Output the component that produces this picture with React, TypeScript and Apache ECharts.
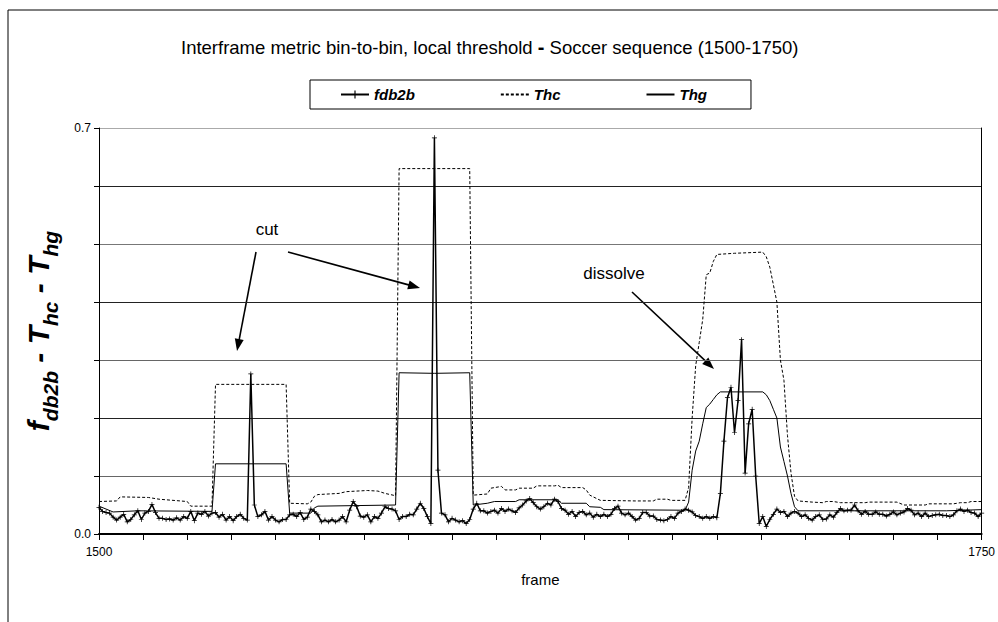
import React, { useEffect, useRef } from "react";
import * as echarts from "echarts";

const START_FRAME = 1500;
const END_FRAME = 1750;

// fdb2b: one value per frame, 1500 .. 1750
const fdb2b = [
  0.046, 0.039, 0.037, 0.036, 0.029, 0.024, 0.029, 0.034, 0.021, 0.025,
  0.033, 0.040, 0.025, 0.036, 0.039, 0.051, 0.037, 0.027, 0.027, 0.025,
  0.026, 0.024, 0.028, 0.024, 0.030, 0.027, 0.039, 0.023, 0.036, 0.034,
  0.039, 0.031, 0.036, 0.037, 0.029, 0.034, 0.024, 0.030, 0.023, 0.030,
  0.034, 0.027, 0.024, 0.276, 0.050, 0.030, 0.033, 0.039, 0.024, 0.030,
  0.024, 0.021, 0.025, 0.025, 0.033, 0.034, 0.030, 0.037, 0.025, 0.029,
  0.043, 0.039, 0.033, 0.021, 0.024, 0.021, 0.025, 0.021, 0.024, 0.030,
  0.021, 0.041, 0.056, 0.047, 0.031, 0.029, 0.033, 0.021, 0.030, 0.027,
  0.036, 0.047, 0.044, 0.043, 0.040, 0.025, 0.030, 0.030, 0.034, 0.033,
  0.043, 0.053, 0.044, 0.030, 0.018, 0.683, 0.110, 0.036, 0.033, 0.021,
  0.027, 0.024, 0.021, 0.023, 0.018, 0.025, 0.043, 0.053, 0.040, 0.040,
  0.036, 0.039, 0.041, 0.036, 0.044, 0.039, 0.043, 0.040, 0.037, 0.045,
  0.050, 0.057, 0.061, 0.054, 0.047, 0.043, 0.047, 0.053, 0.050, 0.060,
  0.056, 0.044, 0.041, 0.034, 0.039, 0.030, 0.037, 0.039, 0.033, 0.036,
  0.029, 0.034, 0.030, 0.034, 0.030, 0.034, 0.044, 0.048, 0.036, 0.033,
  0.036, 0.030, 0.024, 0.027, 0.037, 0.037, 0.031, 0.031, 0.025, 0.024,
  0.023, 0.025, 0.030, 0.027, 0.036, 0.039, 0.043, 0.041, 0.038, 0.032,
  0.030, 0.027, 0.030, 0.027, 0.030, 0.028, 0.070, 0.160, 0.235, 0.253,
  0.175, 0.230, 0.335, 0.105, 0.190, 0.215, 0.100, 0.018, 0.030, 0.013,
  0.025, 0.034, 0.043, 0.037, 0.039, 0.030, 0.036, 0.039, 0.036, 0.030,
  0.033, 0.027, 0.024, 0.030, 0.033, 0.025, 0.026, 0.033, 0.029, 0.037,
  0.044, 0.040, 0.041, 0.041, 0.050, 0.040, 0.034, 0.039, 0.034, 0.034,
  0.038, 0.034, 0.034, 0.031, 0.034, 0.038, 0.033, 0.036, 0.038, 0.044,
  0.041, 0.033, 0.036, 0.030, 0.036, 0.030, 0.032, 0.033, 0.034, 0.032,
  0.032, 0.030, 0.033, 0.040, 0.043, 0.039, 0.041, 0.037, 0.036, 0.030,
  0.036,
];

// Thc (dashed): vertices
const thcFrames = [
  1500, 1505, 1506, 1514, 1517, 1525, 1526, 1532, 1533, 1553,
  1554, 1559, 1560, 1561, 1562, 1568, 1570, 1576, 1579, 1581,
  1584, 1585, 1605, 1606, 1610, 1611, 1614, 1615, 1618, 1619,
  1623, 1624, 1629, 1630, 1631, 1637, 1638, 1639, 1641, 1642,
  1652, 1657, 1658, 1661, 1662, 1666, 1667, 1668, 1669, 1670,
  1671, 1672, 1673, 1674, 1675, 1680, 1688, 1689, 1690, 1691,
  1692, 1693, 1694, 1695, 1696, 1697, 1698, 1702, 1705, 1706,
  1708, 1710, 1717, 1718, 1726, 1728, 1734, 1735, 1742, 1744,
  1746, 1747, 1750,
];
const thcValues = [
  0.056, 0.057, 0.064, 0.063, 0.060, 0.056, 0.048, 0.048, 0.258, 0.258,
  0.053, 0.052, 0.055, 0.065, 0.068, 0.070, 0.073, 0.075, 0.074, 0.070,
  0.066, 0.630, 0.630, 0.067, 0.069, 0.079, 0.082, 0.076, 0.076, 0.079,
  0.079, 0.083, 0.083, 0.084, 0.080, 0.080, 0.076, 0.067, 0.061, 0.058,
  0.057, 0.057, 0.060, 0.060, 0.058, 0.058, 0.080, 0.200, 0.290, 0.330,
  0.370, 0.447, 0.450, 0.470, 0.482, 0.484, 0.486, 0.478, 0.460, 0.430,
  0.400, 0.300, 0.265, 0.170, 0.105, 0.065, 0.057, 0.055, 0.054, 0.056,
  0.056, 0.054, 0.054, 0.055, 0.055, 0.050, 0.050, 0.052, 0.052, 0.054,
  0.054, 0.056, 0.056,
];

// Thg (solid): vertices
const thgFrames = [
  1500, 1504, 1511, 1532, 1533, 1553, 1554, 1560, 1561, 1562,
  1584, 1585, 1595, 1605, 1606, 1610, 1612, 1618, 1619, 1630,
  1631, 1638, 1639, 1642, 1643, 1666, 1667, 1668, 1669, 1670,
  1671, 1672, 1673, 1674, 1675, 1676, 1688, 1689, 1690, 1691,
  1692, 1693, 1694, 1695, 1696, 1697, 1698, 1740, 1750,
];
const thgValues = [
  0.048, 0.038, 0.040, 0.039, 0.121, 0.121, 0.036, 0.036, 0.045, 0.048,
  0.050, 0.278, 0.277, 0.278, 0.050, 0.053, 0.056, 0.056, 0.059, 0.059,
  0.053, 0.053, 0.047, 0.046, 0.042, 0.041, 0.055, 0.110, 0.143, 0.160,
  0.190, 0.218, 0.224, 0.232, 0.240, 0.245, 0.245, 0.240, 0.230, 0.215,
  0.200, 0.150, 0.125, 0.100, 0.070, 0.047, 0.040, 0.040, 0.042,
];

const seriesNames = ["fdb2b", "Thc", "Thg"];
const xTickLabels = ["1500", "1750"];
const yTickLabels = ["0.0", "0.7"];

const FONT = "'Liberation Sans', Arial, Helvetica, sans-serif";

function arrow(x1: number, y1: number, x2: number, y2: number) {
  const headLen = 12;
  const headW = 4.5;
  const dx = x2 - x1;
  const dy = y2 - y1;
  const len = Math.hypot(dx, dy);
  const ux = dx / len;
  const uy = dy / len;
  const bx = x2 - ux * headLen;
  const by = y2 - uy * headLen;
  return [
    {
      type: "line",
      shape: { x1, y1, x2: bx + ux * 2, y2: by + uy * 2 },
      style: { stroke: "#000", lineWidth: 1.6 },
    },
    {
      type: "polygon",
      shape: {
        points: [
          [x2, y2],
          [bx - uy * headW, by + ux * headW],
          [bx + uy * headW, by - ux * headW],
        ],
      },
      style: { fill: "#000" },
    },
  ];
}

export default function App() {
  const ref = useRef<HTMLDivElement>(null);

  useEffect(() => {
    if (!ref.current) return;
    const chart = echarts.init(ref.current, undefined, { renderer: "svg" });

    const fdbData = fdb2b.map((v, i) => [START_FRAME + i, v]);
    const thcData = thcFrames.map((f, i) => [f, thcValues[i]]);
    const thgData = thgFrames.map((f, i) => [f, thgValues[i]]);

    const plus = "path://M0,3H7V4H0Z M3,0H4V7H3Z";

    const option: any = {
      animation: false,
      backgroundColor: "#fff",
      textStyle: { fontFamily: FONT },
      title: {
        text: "{n|Interframe metric bin-to-bin, local threshold }{d|-}{n| Soccer sequence (1500-1750)}",
        left: 176,
        top: 32,
        textStyle: {
          fontWeight: "normal",
          rich: {
            n: { fontSize: 18.5, fontWeight: "normal", color: "#000", fontFamily: FONT },
            d: { fontSize: 20, fontWeight: "bold", color: "#000", fontFamily: FONT },
          },
        },
      },
      legend: {
        data: [
          { name: seriesNames[0] },
          { name: seriesNames[1], itemStyle: { opacity: 0 } },
          { name: seriesNames[2], itemStyle: { opacity: 0 } },
        ],
        left: 310,
        top: 80,
        orient: "horizontal",
        itemWidth: 28,
        itemHeight: 10,
        itemGap: 85,
        padding: [7, 44, 7, 30],
        borderColor: "#000",
        borderWidth: 1,
        selectedMode: false,
        textStyle: {
          fontFamily: FONT,
          fontSize: 15,
          fontWeight: "bold",
          fontStyle: "italic",
          color: "#000",
        },
      },
      grid: { left: 99, right: 15, top: 128, bottom: 88, containLabel: false },
      xAxis: {
        type: "value",
        min: START_FRAME,
        max: END_FRAME,
        interval: 12.5,
        axisLine: { lineStyle: { color: "#000", width: 2 } },
        axisTick: { length: 6, lineStyle: { color: "#000" } },
        axisLabel: {
          formatter: (v: number) => (xTickLabels.includes(String(v)) ? String(v) : ""),
          fontSize: 12,
          color: "#000",
          margin: 12,
          fontFamily: FONT,
        },
        splitLine: { show: false },
        name: "frame",
        nameLocation: "middle",
        nameGap: 38,
        nameTextStyle: { fontSize: 15, color: "#000", fontFamily: FONT },
      },
      yAxis: [
        {
          type: "value",
          min: 0,
          max: 0.7,
          interval: 0.1,
          axisLine: { show: true, lineStyle: { color: "#000" } },
          axisTick: { show: true, length: 5, lineStyle: { color: "#000" } },
          axisLabel: {
            formatter: (v: number) => {
              const s = v.toFixed(1);
              return yTickLabels.includes(s) ? s : "";
            },
            fontSize: 12,
            color: "#000",
            margin: 8,
            fontFamily: FONT,
          },
          splitLine: {
            show: true,
            lineStyle: {
              width: 1,
              color: ["#000", "#666", "#222", "#666", "#222", "#777", "#222", "#aaa"],
            },
          },
        },
        {
          type: "value",
          position: "right",
          min: 0,
          max: 0.7,
          interval: 0.1,
          axisLine: { show: true, lineStyle: { color: "#000" } },
          axisTick: { show: false },
          axisLabel: { show: false },
          splitLine: { show: false },
        },
      ],
      series: [
        {
          name: "fdb2b",
          type: "line",
          data: fdbData,
          symbol: plus,
          symbolSize: 5,
          showSymbol: true,
          lineStyle: { color: "#000", width: 1.5 },
          itemStyle: { color: "#000" },
          z: 4,
        },
        {
          name: "Thc",
          type: "line",
          data: thcData,
          symbol: "none",
          lineStyle: { color: "#000", width: 1, type: [3, 2] },
          itemStyle: { color: "#000" },
          z: 3,
        },
        {
          name: "Thg",
          type: "line",
          data: thgData,
          symbol: "none",
          lineStyle: { color: "#000", width: 1 },
          itemStyle: { color: "#000" },
          z: 3,
        },
      ],
      graphic: [
        { type: "line", shape: { x1: 8, y1: 10, x2: 998, y2: 10 }, style: { stroke: "#000", lineWidth: 1 } },
        { type: "line", shape: { x1: 8, y1: 10, x2: 8, y2: 622 }, style: { stroke: "#000", lineWidth: 1 } },
        {
          type: "text",
          x: 42,
          y: 331,
          rotation: Math.PI / 2,
          style: {
            text: "{f|f}{s|db2b}{f| - T}{s|hc}{f| - T}{s|hg}",
            align: "center",
            verticalAlign: "middle",
            rich: {
              f: {
                fontSize: 30,
                fontWeight: "bold",
                fontStyle: "italic",
                fontFamily: FONT,
                fill: "#000",
                lineHeight: 32,
                verticalAlign: "top",
              },
              s: {
                fontSize: 21,
                fontWeight: "bold",
                fontStyle: "italic",
                fontFamily: FONT,
                fill: "#000",
                lineHeight: 37,
                verticalAlign: "bottom",
              },
            },
          },
        },
        {
          type: "text",
          x: 267,
          y: 229,
          style: { text: "cut", fontSize: 17, fontFamily: FONT, fill: "#000", align: "center", verticalAlign: "middle" },
        },
        {
          type: "text",
          x: 614,
          y: 273,
          style: { text: "dissolve", fontSize: 17, fontFamily: FONT, fill: "#000", align: "center", verticalAlign: "middle" },
        },
        ...arrow(256, 252, 237, 351),
        ...arrow(288, 252, 420, 288),
        ...arrow(632, 292, 714, 369),
      ],
    };

    chart.setOption(option);
    return () => chart.dispose();
  }, []);

  return (
    <div
      ref={ref}
      style={{ position: "fixed", left: 0, top: 0, width: 998, height: 622, background: "#fff" }}
    />
  );
}
